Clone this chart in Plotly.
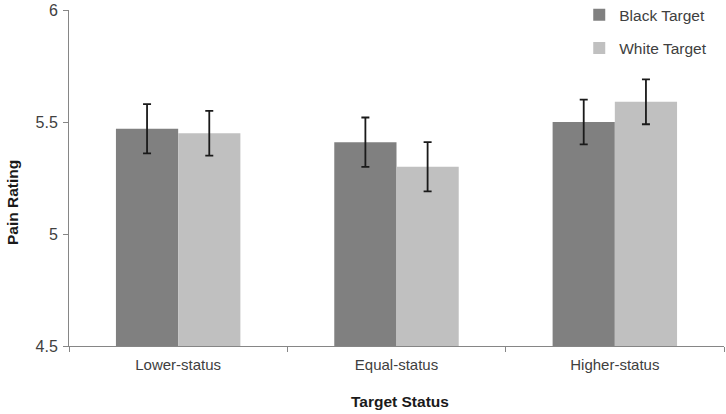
import plotly.graph_objects as go

categories = ["Lower-status", "Equal-status", "Higher-status"]
black_vals = [5.47, 5.41, 5.50]
black_err = [0.11, 0.11, 0.10]
white_vals = [5.45, 5.30, 5.59]
white_err = [0.10, 0.11, 0.10]
y_ticks = [4.5, 5, 5.5, 6]
y_ticklabels = ["4.5", "5", "5.5", "6"]

font_family = "Liberation Sans, Arial, sans-serif"
text_color = "#404040"
title_color = "#1a1a1a"

fig = go.Figure()
fig.add_trace(go.Bar(
    x=categories, y=black_vals, name="Black Target",
    marker=dict(color="#808080", line=dict(width=0)),
    error_y=dict(type="data", array=black_err, visible=True,
                 color="#1a1a1a", thickness=1.8, width=4),
    legendgroup="a",
))
fig.add_trace(go.Bar(
    x=categories, y=white_vals, name="White Target",
    marker=dict(color="#c0c0c0", line=dict(width=0)),
    error_y=dict(type="data", array=white_err, visible=True,
                 color="#1a1a1a", thickness=1.8, width=4),
    legendgroup="b",
))

fig.update_layout(
    width=726, height=414,
    margin=dict(l=69, r=2, t=10, b=68, autoexpand=False),
    paper_bgcolor="white", plot_bgcolor="white",
    barmode="group", bargap=0.43, bargroupgap=0,
    font=dict(family=font_family, color=text_color, size=14),
    showlegend=True,
    legend=dict(
        x=0.779, y=1.035, xanchor="left", yanchor="top",
        font=dict(size=15.5, color=text_color),
        traceorder="grouped", tracegroupgap=10,
        bgcolor="rgba(0,0,0,0)", itemwidth=30,
    ),
    xaxis=dict(
        showline=True, linecolor="#868686", linewidth=1,
        ticks="outside", ticklen=5, tickcolor="#868686",
        tickson="boundaries", ticklabelstandoff=5,
        tickfont=dict(size=15, color=text_color),
        showgrid=False, zeroline=False,
    ),
    yaxis=dict(
        range=[4.5, 6], tickvals=y_ticks, ticktext=y_ticklabels,
        showline=True, linecolor="#868686", linewidth=1,
        ticks="outside", ticklen=5, tickcolor="#868686",
        ticklabelstandoff=2,
        tickfont=dict(size=16, color=text_color),
        showgrid=False, zeroline=False,
    ),
    annotations=[
        dict(text="<b>Pain Rating</b>", textangle=-90, showarrow=False,
             xref="paper", yref="paper", x=(12 - 69) / 655, y=(346 - 203) / 336,
             xanchor="center", yanchor="middle",
             font=dict(size=15.5, color=title_color, family=font_family)),
        dict(text="<b>Target Status</b>", showarrow=False,
             xref="paper", yref="paper", x=0.505, y=(346 - 401) / 336,
             xanchor="center", yanchor="middle",
             font=dict(size=15.5, color=title_color, family=font_family)),
    ],
)

fig.write_html(
    "out.html",
    config={"displayModeBar": False},
    post_script="document.body.style.margin='0';document.body.style.overflow='hidden';",
)
